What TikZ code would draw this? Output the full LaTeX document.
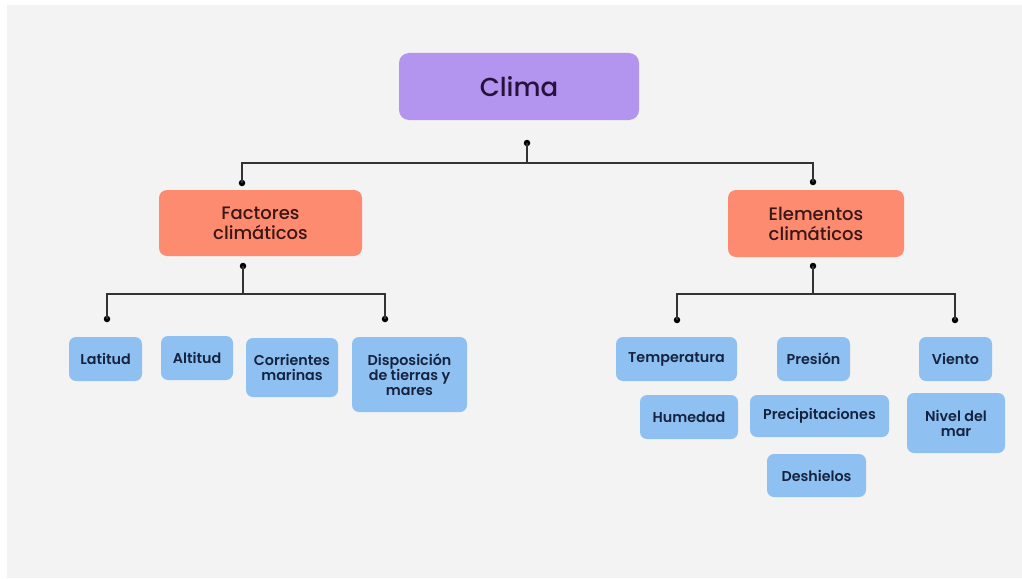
\documentclass[tikz,border=0pt]{standalone}
\usepackage{fontspec}
\setmainfont{Poppins}
\newfontfamily\medfont{Poppins Medium}
\newfontfamily\semifont{Poppins SemiBold}
\usetikzlibrary{positioning}
\definecolor{bggray}{HTML}{F3F3F3}
\definecolor{climapurple}{HTML}{B394EE}
\definecolor{factsalmon}{HTML}{FC8B70}
\definecolor{leafblue}{HTML}{8EC1F2}
\definecolor{navytext}{HTML}{16233F}
\definecolor{browntext}{HTML}{3A1616}
\definecolor{plumtext}{HTML}{26123A}
\tikzset{
    % box styles
    topbox/.style={
           fill=climapurple,
           rounded corners=10pt,
           inner sep=0pt,
           text=plumtext,
           font=\medfont\fontsize{26}{30}\selectfont},
    midbox/.style={
           fill=factsalmon,
           rounded corners=8pt,
           inner sep=0pt,
           align=center,
           text=browntext,
           font=\medfont\fontsize{18}{20}\selectfont},
    leafbox/.style={
           fill=leafblue,
           rounded corners=7pt,
           inner sep=0pt,
           align=center,
           text=navytext,
           font=\semifont\fontsize{14.3}{15}\selectfont},
    % connectors
    bar/.style={
           draw=black!80,
           line width=1.6pt},
    dot/.style={circle, fill=black, inner sep=0pt, minimum size=6.5pt}
}
\begin{document}
\begin{tikzpicture}[x=1pt,y=-1pt]
\useasboundingbox (0,0) rectangle (1022,578);
\fill[white] (0,0) rectangle (1022,578);
\fill[bggray] (7,5) rectangle (1022,578);

%Main boxes
\node[topbox, minimum width=240pt, minimum height=67pt](clima) at (519,86.5){Clima};
\node[midbox, minimum width=203pt, minimum height=66pt](factores) at (260.5,223){Factores\\climáticos};
\node[midbox, minimum width=176pt, minimum height=67pt](elementos) at (816,223.5){Elementos\\climáticos};

%Factores
\node[leafbox, minimum width=73pt, minimum height=44pt](latitud) at (105.5,359){Latitud};
\node[leafbox, minimum width=72pt, minimum height=44pt](altitud) at (197,358){Altitud};
\node[leafbox, minimum width=92pt, minimum height=59pt](corrientes) at (292,367.5){Corrientes\\marinas};
\node[leafbox, minimum width=115pt, minimum height=75pt](disposicion) at (409.5,374.5){Disposición\\de tierras y\\mares};

%Elementos
\node[leafbox, minimum width=121pt, minimum height=44pt](temperatura) at (676.5,359){Temperatura};
\node[leafbox, minimum width=73pt, minimum height=44pt](presion) at (813.5,359){Presión};
\node[leafbox, minimum width=73pt, minimum height=44pt](viento) at (955.5,359){Viento};
\node[leafbox, minimum width=98pt, minimum height=44pt](humedad) at (689,417){Humedad};
\node[leafbox, minimum width=139pt, minimum height=42pt](precipitaciones) at (819.5,416){Precipitaciones};
\node[leafbox, minimum width=98pt, minimum height=60pt](nivel) at (956,423){Nivel del\\mar};
\node[leafbox, minimum width=99pt, minimum height=43pt](deshielos) at (816.5,475.5){Deshielos};

%Dots and junctions
\node[dot](climadot) at (527,143){};
\coordinate (climajoin) at (527,163);
\node[dot](factdot) at (242,183){};
\node[dot](elemdot) at (813,182){};

\node[dot](factdown) at (243,266){};
\coordinate (factjoin) at (243,294);
\node[dot](factleft) at (107,319){};
\node[dot](factright) at (385,319){};

\node[dot](elemdown) at (813,266){};
\coordinate (elemjoin) at (813,294);
\node[dot](elemleft) at (677,320){};
\node[dot](elemright) at (955,320){};

%Connectors
\draw[bar] (climadot.center) -- (climajoin);
\draw[bar] (factdot.center) |- (climajoin) -| (elemdot.center);
\draw[bar] (factdown.center) -- (factjoin);
\draw[bar] (factleft.center) |- (factjoin) -| (factright.center);
\draw[bar] (elemdown.center) -- (elemjoin);
\draw[bar] (elemleft.center) |- (elemjoin) -| (elemright.center);

\end{tikzpicture}
\end{document}
